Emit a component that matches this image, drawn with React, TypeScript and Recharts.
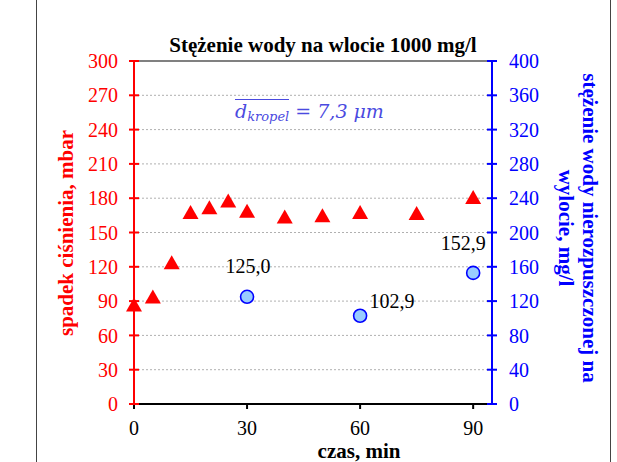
import React from 'react';
import {
  ComposedChart, Scatter, XAxis, YAxis, CartesianGrid, ReferenceLine, LabelList,
} from 'recharts';

// czas, min -> spadek ciśnienia, mbar
const timeMin = [0, 5, 10, 15, 20, 25, 30, 40, 50, 60, 75, 90];
const pressureDrop = [87, 94, 124, 168, 172, 178, 169, 164, 165, 168, 167, 181];

// czas, min -> stężenie wody na wylocie, mg/l
const outletTime = [30, 60, 90];
const outletConc = [125.0, 102.9, 152.9];

const xTicks = [0, 30, 60, 90];
const leftTicks = [0, 30, 60, 90, 120, 150, 180, 210, 240, 270, 300];
const rightTicks = [0, 40, 80, 120, 160, 200, 240, 280, 320, 360, 400];

const pressureData = timeMin.map((t, i) => ({ t, p: pressureDrop[i] }));
const outletData = outletTime.map((t, i) => ({ t, c: outletConc[i] }));

// where each value label sits relative to its marker
const labelOffsets = [
  { dx: 1, dy: -24 },
  { dx: 32, dy: -8 },
  { dx: -10, dy: -23 },
];

const RED = '#ff0000';
const BLUE = '#0000ff';
const SERIF = '"Liberation Serif", "Times New Roman", serif';

const Triangle = (props: any) => {
  const { cx, cy } = props;
  if (cx == null || cy == null) return null;
  return <polygon points={`${cx},${cy - 7} ${cx + 8},${cy + 7} ${cx - 8},${cy + 7}`} fill={RED} />;
};

const Dot = (props: any) => {
  const { cx, cy } = props;
  if (cx == null || cy == null) return null;
  return <circle cx={cx} cy={cy} r={6.5} fill="#99ccff" stroke={BLUE} strokeWidth={1.6} />;
};

const LeftTick = (props: any) => {
  const { x, y, payload } = props;
  const axisX = x + 5 + 11;
  return (
    <g>
      <line x1={axisX - 5} x2={axisX + 5} y1={y} y2={y} stroke={RED} strokeWidth={2} />
      <text x={x} y={y} dy="0.355em" textAnchor="end" fill={RED} fontSize={20} fontFamily={SERIF}>
        {payload.value}
      </text>
    </g>
  );
};

const RightTick = (props: any) => {
  const { x, y, payload } = props;
  const axisX = x - 5 - 12;
  return (
    <g>
      <line x1={axisX - 5} x2={axisX + 5} y1={y} y2={y} stroke={BLUE} strokeWidth={2} />
      <text x={x} y={y} dy="0.355em" textAnchor="start" fill={BLUE} fontSize={20} fontFamily={SERIF}>
        {payload.value}
      </text>
    </g>
  );
};

const ValueLabel = (props: any) => {
  const { x, y, width, height, value, index } = props;
  const off = labelOffsets[index] || { dx: 0, dy: -20 };
  const cx = x + (width || 0) / 2;
  const cy = y + (height || 0) / 2;
  return (
    <text x={cx + off.dx} y={cy + off.dy} textAnchor="middle" fill="#000" fontSize={20} fontFamily={SERIF}>
      {Number(value).toFixed(1).replace('.', ',')}
    </text>
  );
};

export default function App() {
  return (
    <div style={{ position: 'absolute', left: 0, top: 0, width: 617, height: 462, background: '#fff', overflow: 'hidden', fontFamily: SERIF }}>
      {/* chart frame */}
      <div style={{ position: 'absolute', left: 36, top: -2, width: 573, height: 470, borderLeft: '1px solid #444', borderRight: '1px solid #444' }} />

      <ComposedChart
        width={617}
        height={462}
        margin={{ top: 61, right: 65, bottom: 28, left: 74 }}
        style={{ position: 'absolute', left: 0, top: 0 }}
      >
        <CartesianGrid horizontal vertical={false} stroke="#b0b0b0" strokeDasharray="2 2" yAxisId="left" />
        <XAxis
          dataKey="t"
          type="number"
          domain={[0, 95]}
          ticks={xTicks}
          stroke="#000"
          strokeWidth={2}
          tickSize={5}
          tickMargin={12}
          height={30}
          tick={{ fill: '#000', fontSize: 20, fontFamily: SERIF }}
        />
        <YAxis
          yAxisId="left"
          orientation="left"
          type="number"
          domain={[0, 300]}
          ticks={leftTicks}
          width={60}
          stroke={RED}
          strokeWidth={2}
          tickLine={false}
          tickSize={5}
          tickMargin={11}
          tick={<LeftTick />}
          interval={0}
        />
        <YAxis
          yAxisId="right"
          orientation="right"
          type="number"
          domain={[0, 400]}
          ticks={rightTicks}
          width={60}
          stroke={BLUE}
          strokeWidth={2}
          tickLine={false}
          tickSize={5}
          tickMargin={12}
          tick={<RightTick />}
          interval={0}
        />
        <ReferenceLine yAxisId="left" y={300} stroke="#808080" strokeWidth={2} />
        <Scatter
          yAxisId="left"
          data={pressureData}
          dataKey="p"
          shape={<Triangle />}
          isAnimationActive={false}
        />
        <Scatter
          yAxisId="right"
          data={outletData}
          dataKey="c"
          shape={<Dot />}
          isAnimationActive={false}
        >
          <LabelList dataKey="c" content={<ValueLabel />} />
        </Scatter>
      </ComposedChart>

      {/* title */}
      <div style={{ position: 'absolute', left: 323, top: 45, transform: 'translate(-50%, -50%)', whiteSpace: 'nowrap', fontWeight: 'bold', fontSize: 21, color: '#000' }}>
        Stężenie wody na wlocie 1000 mg/l
      </div>

      {/* mean droplet size */}
      <div style={{ position: 'absolute', left: 235, top: 99, whiteSpace: 'nowrap', fontStyle: 'italic', fontSize: 19, lineHeight: '24px', color: '#4a4ae0', fontFamily: '"DejaVu Serif", serif' }}>
        <span style={{ display: 'inline-block', borderTop: '1.5px solid #4a4ae0', lineHeight: '22px' }}>
          d<sub style={{ fontSize: 13, verticalAlign: '-3px' }}>kropel</sub>
        </span>
        <span> = 7,3 μm</span>
      </div>

      {/* left axis title */}
      <div style={{ position: 'absolute', left: 66, top: 233, transform: 'translate(-50%, -50%) rotate(-90deg)', whiteSpace: 'nowrap', fontWeight: 'bold', fontSize: 21, color: RED }}>
        spadek ciśnienia, mbar
      </div>

      {/* right axis title */}
      <div style={{ position: 'absolute', left: 578, top: 228, transform: 'translate(-50%, -50%) rotate(90deg)', whiteSpace: 'nowrap', fontWeight: 'bold', fontSize: 21, lineHeight: '24px', textAlign: 'center', color: BLUE }}>
        stężenie wody nierozpuszczonej na<br />wylocie, mg/l
      </div>

      {/* x axis title */}
      <div style={{ position: 'absolute', left: 359, top: 451, transform: 'translate(-50%, -50%)', whiteSpace: 'nowrap', fontWeight: 'bold', fontSize: 21, lineHeight: '16px', color: '#000' }}>
        czas, min
      </div>
    </div>
  );
}
